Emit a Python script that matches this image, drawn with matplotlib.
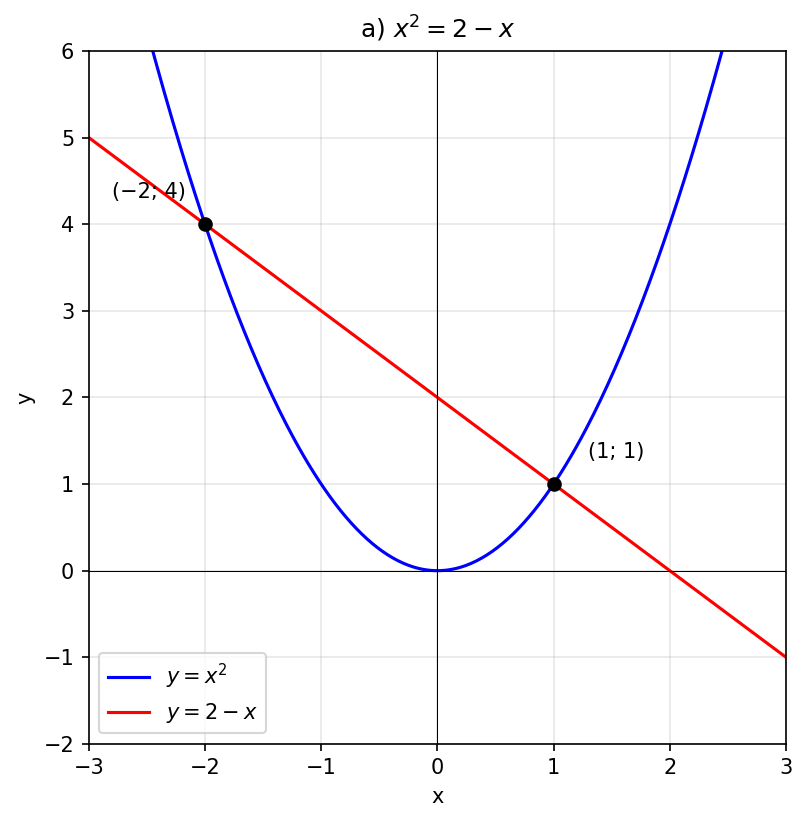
import numpy as np
import matplotlib.pyplot as plt

x = np.linspace(-3, 3, 400)
points_x = [-2, 1]
points_y = [4, 1]
labels = ["(−2; 4)", "(1; 1)"]
label_pos = [(-2.8, 4.3), (1.3, 1.3)]

fig, ax = plt.subplots(figsize=(5.38, 5.48), dpi=150)
fig.subplots_adjust(left=0.110, right=0.974, top=0.938, bottom=0.095)

ax.plot(x, x**2, color="blue", label="$y = x^2$")
ax.plot(x, 2 - x, color="red", label="$y = 2 - x$")
ax.plot(points_x, points_y, "ko", markersize=6, zorder=5)
for lab, pos in zip(labels, label_pos):
    ax.text(pos[0], pos[1], lab, fontsize=10)

ax.axhline(0, color="black", linewidth=0.5)
ax.axvline(0, color="black", linewidth=0.5)
ax.set_xlim(-3, 3)
ax.set_ylim(-2, 6)
ax.grid(True, alpha=0.3)
ax.set_xlabel("x")
ax.set_ylabel("y")
ax.set_title("a) $x^2 = 2 - x$")
ax.legend(loc="lower left")

fig.savefig("out.png", dpi=150)
